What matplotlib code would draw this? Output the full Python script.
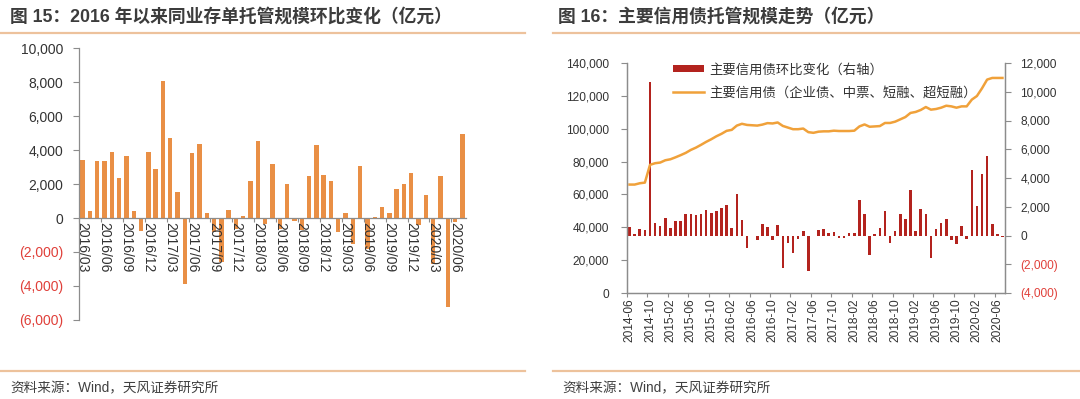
import numpy as np
import matplotlib
matplotlib.use("Agg")
import matplotlib.pyplot as plt
from matplotlib.lines import Line2D
from matplotlib.patches import Patch

plt.rcParams['font.family'] = ['Liberation Sans', 'Noto Sans CJK SC', 'DejaVu Sans']

# ---- data: chart 15 (monthly change of NCD custody, 100m yuan)
ncd_change = [3430, 410, 3330, 3350, 3860, 2370, 3650, 390, -745, 3860,
              2880, 8080, 4730, 1510, -3860, 3820, 4330, 290, -800, -2590,
              450, -620, 120, 2200, 4550, -370, 3160, -670, 2000, -200,
              -700, 2450, 4290, 2510, 2200, -840, 275, -1550, 3040, -1800,
              80, 630, 275, 1730, 2000, 2670, -410, 1330, -2700, 2470,
              -5250, -235, 4940]
ncd_labels = ["2016/03", "2016/06", "2016/09", "2016/12", "2017/03", "2017/06",
              "2017/09", "2017/12", "2018/03", "2018/06", "2018/09", "2018/12",
              "2019/03", "2019/06", "2019/09", "2019/12", "2020/03", "2020/06"]
ncd_yticks = [-6000, -4000, -2000, 0, 2000, 4000, 6000, 8000, 10000]

# ---- data: chart 16 (credit bond custody)
credit_change = [560, 90, 470, 370, 10670, 880, 670, 1230, 510, 1020,
                 1020, 1470, 1470, 1400, 1470, 1770, 1560, 1720, 1880, 2140,
                 510, 2880, 1090, -840, -50, -300, 810, 560, -300, 720,
                 -2230, -490, -1190, -260, 300, -2490, -50, 370, 440, 140,
                 260, -160, -160, 190, 190, 2470, 1490, -1370, 120, 490,
                 1700, -530, 330, 1490, 1120, 3160, 300, 1840, 1470, -1560,
                 440, 860, 1120, -330, -560, 630, -260, 4580, 2070, 4300,
                 5530, 790, 90, -90]
credit_total = [66000, 66000, 66800, 67200, 78000, 79000, 79400, 80800, 81400, 82600,
                83900, 85300, 87100, 88500, 90200, 92000, 93600, 95400, 96900, 98700,
                99300, 101900, 103000, 102300, 102100, 101900, 102500, 103400, 103200, 103800,
                101700, 100700, 99700, 99700, 100100, 97900, 97500, 98200, 98400, 98400,
                98800, 98600, 98600, 98600, 98800, 101400, 102600, 101200, 101400, 101600,
                103500, 103500, 104300, 105700, 107100, 109600, 110200, 111400, 113200, 111600,
                112000, 112800, 114000, 113600, 112800, 113600, 113600, 117700, 119900, 124600,
                129900, 130900, 130900, 130900]
credit_labels = ["2014-06", "2014-10", "2015-02", "2015-06", "2015-10", "2016-02",
                 "2016-06", "2016-10", "2017-02", "2017-06", "2017-10", "2018-02",
                 "2018-06", "2018-10", "2019-02", "2019-06", "2019-10", "2020-02",
                 "2020-06"]
left_yticks = [0, 20000, 40000, 60000, 80000, 100000, 120000, 140000]
right_yticks = [-4000, -2000, 0, 2000, 4000, 6000, 8000, 10000, 12000]

# ---- style
ORANGE_BAR = "#E98F45"
RED_BAR = "#B3231E"
LINE_COL = "#F0A13A"
NEG_COL = "#E0403A"
TXT = "#333333"
SPINE = "#8C8C8C"
RULE = "#EDC29C"


def num_label(v):
    if v < 0:
        return "({:,.0f})".format(-v)
    return "{:,.0f}".format(v)


def set_num_ticks(ax, ticks, size=10):
    ax.set_yticks(ticks)
    ax.set_yticklabels([num_label(t) for t in ticks], fontsize=size)
    for t, lab in zip(ticks, ax.yaxis.get_ticklabels()):
        lab.set_color(NEG_COL if t < 0 else TXT)


fig = plt.figure(figsize=(10.8, 3.99), dpi=100)

# header / footer rules and texts
for x0, x1 in [(0.0, 0.486), (0.512, 1.0)]:
    fig.add_artist(Line2D([x0, x1], [1 - 33 / 399] * 2, color=RULE, lw=1.6))
    fig.add_artist(Line2D([x0, x1], [1 - 371 / 399] * 2, color=RULE, lw=1.6))
fig.text(10 / 1080, 1 - 17 / 399, "图 15：2016 年以来同业存单托管规模环比变化（亿元）",
         fontsize=12.8, fontweight="bold", color="#3C3C3C", va="center")
fig.text(558 / 1080, 1 - 17 / 399, "图 16：主要信用债托管规模走势（亿元）",
         fontsize=12.8, fontweight="bold", color="#3C3C3C", va="center")
fig.text(10 / 1080, 1 - 388 / 399, "资料来源：Wind，天风证券研究所",
         fontsize=9.8, color="#404040", va="center")
fig.text(562 / 1080, 1 - 388 / 399, "资料来源：Wind，天风证券研究所",
         fontsize=9.8, color="#404040", va="center")

# ---- left chart
ax = fig.add_axes([79 / 1080, 1 - 320 / 399, 387 / 1080, 272 / 399])
x = np.arange(len(ncd_change))
ax.bar(x, ncd_change, width=0.6, color=ORANGE_BAR)
ax.set_xlim(-0.5, 52.5)
ax.set_ylim(-6000, 10000)
for s in ["top", "right"]:
    ax.spines[s].set_visible(False)
ax.spines["bottom"].set_position(("data", 0))
for s in ["left", "bottom"]:
    ax.spines[s].set_color(SPINE)
    ax.spines[s].set_linewidth(0.9)
set_num_ticks(ax, ncd_yticks, size=10)
ax.tick_params(axis="y", length=4.5, width=0.8, color=SPINE, pad=7)
ax.set_xticks(x[::3])
ax.set_xticklabels(ncd_labels, rotation=-90, fontsize=10, color=TXT, va="top", ha="center")
ax.set_xticks(x[::3] - 0.5, minor=True)
ax.tick_params(axis="x", which="major", length=0, pad=3)
ax.tick_params(axis="x", which="minor", length=3, width=0.8, color=SPINE)

# ---- right chart
bx = fig.add_axes([627 / 1080, 1 - 293 / 399, 378 / 1080, 230 / 399])
bx2 = bx.twinx()
xs = np.arange(len(credit_total))
bx2.bar(xs, credit_change, width=0.5, color=RED_BAR)
bx.plot(xs, credit_total, color=LINE_COL, lw=1.8)
bx.set_zorder(bx2.get_zorder() + 1)
bx.patch.set_visible(False)
bx.set_xlim(-0.5, 73.5)
bx.set_ylim(0, 140000)
bx2.set_ylim(-4000, 12000)
for a in (bx, bx2):
    a.spines["top"].set_visible(False)
    for s in ["left", "right", "bottom"]:
        a.spines[s].set_color(SPINE)
        a.spines[s].set_linewidth(0.9)
set_num_ticks(bx, left_yticks, size=8.6)
set_num_ticks(bx2, right_yticks, size=8.6)
bx.tick_params(axis="y", length=4, width=0.8, color=SPINE, pad=9)
bx2.tick_params(axis="y", length=4, width=0.8, color=SPINE, pad=7)
bx.set_xticks(xs[::4])
bx.set_xticklabels(credit_labels, rotation=90, fontsize=8.6, color=TXT, va="top", ha="center")
bx.set_xticks(xs[::4] - 0.5, minor=True)
bx.tick_params(axis="x", which="major", length=0, pad=4)
bx.tick_params(axis="x", which="minor", length=3, width=0.8, color=SPINE)

handles = [Patch(facecolor=RED_BAR, edgecolor="none"),
           Line2D([0], [0], color=LINE_COL, lw=1.8)]
labels = ["主要信用债环比变化（右轴）", "主要信用债（企业债、中票、短融、超短融）"]
bx.legend(handles, labels, loc="upper left", bbox_to_anchor=(0.09, 1.05), frameon=False,
          fontsize=9.6, handlelength=2.3, handleheight=0.5, labelspacing=0.75,
          handletextpad=0.4, labelcolor=TXT)

fig.savefig("out.png", dpi=100)
